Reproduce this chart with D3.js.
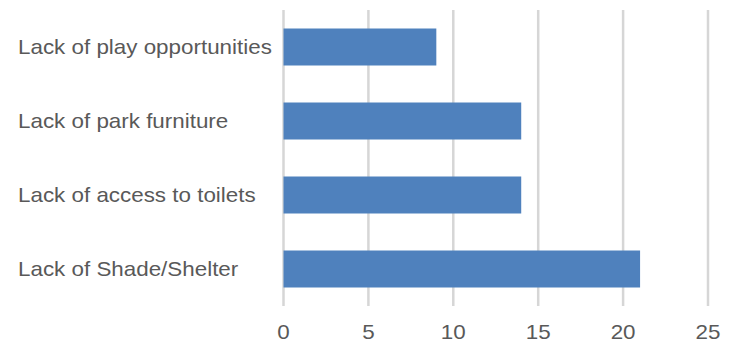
<!DOCTYPE html>
<html>
<head>
<meta charset="utf-8">
<script src="https://cdn.jsdelivr.net/npm/d3@7"></script>
<style>
  body { margin: 0; background: #fff; }
  text { font-family: "Liberation Sans", Arial, sans-serif; fill: #595959; }
</style>
</head>
<body>
<div id="chart"></div>
<script>
// chart data
var categories = ["Lack of play opportunities", "Lack of park furniture", "Lack of access to toilets", "Lack of Shade/Shelter"];
var values = [9, 14, 14, 21];
var ticks = [0, 5, 10, 15, 20, 25];

var width = 733, height = 345;
var plotLeft = 283.5, plotRight = 708, plotTop = 10, plotBottom = 306;
var stretch = 1.12; // the source picture is a bit wider than tall

var svg = d3.select("#chart")
  .append("svg")
  .attr("width", width)
  .attr("height", height);

var x = d3.scaleLinear().domain([0, 25]).range([plotLeft, plotRight]);
var y = d3.scaleBand().domain(categories).range([plotTop, plotBottom]).paddingInner(0.5).paddingOuter(0.25);

// gridlines
svg.append("g")
  .selectAll("line")
  .data(ticks)
  .enter()
  .append("line")
    .attr("x1", function (d) { return x(d); })
    .attr("x2", function (d) { return x(d); })
    .attr("y1", plotTop)
    .attr("y2", plotBottom)
    .attr("stroke", "#d6d6d6")
    .attr("stroke-width", 2.5);

// bars
svg.append("g")
  .selectAll("rect")
  .data(values)
  .enter()
  .append("rect")
    .attr("x", x(0))
    .attr("y", function (d, i) { return y(categories[i]); })
    .attr("width", function (d) { return x(d) - x(0); })
    .attr("height", y.bandwidth())
    .attr("fill", "#4f81bd");

// x tick labels
svg.append("g")
  .selectAll("text")
  .data(ticks)
  .enter()
  .append("text")
    .attr("transform", function (d) { return "translate(" + x(d) + ",332) scale(" + stretch + ",1)"; })
    .attr("text-anchor", "middle")
    .attr("dominant-baseline", "central")
    .style("font-size", "20px")
    .text(function (d) { return d; });

// category labels
svg.append("g")
  .selectAll("text")
  .data(categories)
  .enter()
  .append("text")
    .attr("transform", function (d) { return "translate(18," + (y(d) + y.bandwidth() / 2) + ") scale(" + stretch + ",1)"; })
    .attr("dominant-baseline", "central")
    .style("font-size", "20px")
    .text(function (d) { return d; });
</script>
</body>
</html>
